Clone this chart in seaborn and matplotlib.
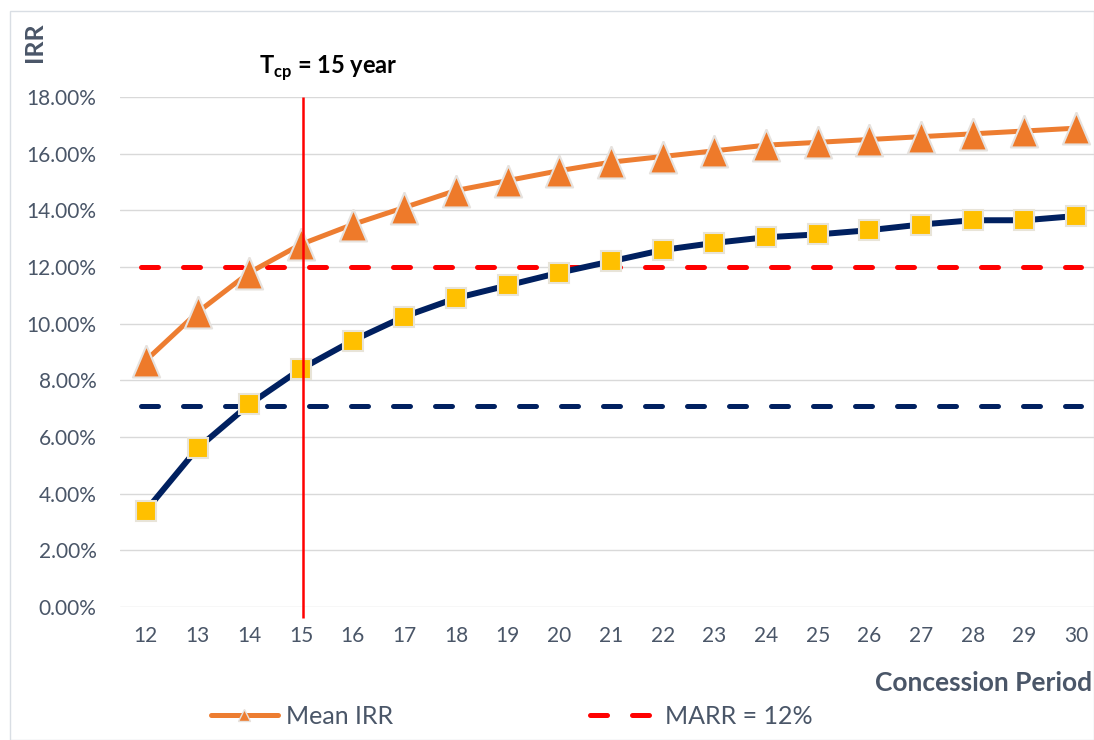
#IRR vs concession period chart

import matplotlib
matplotlib.use("Agg")
import matplotlib.pyplot as plt
import numpy as np
import pandas as pd
import seaborn as sb
from matplotlib.lines import Line2D
from matplotlib.patches import Rectangle

#Data (IRR in %)
periods = list(range(12, 31))
mean_irr = [8.7, 10.4, 11.8, 12.8, 13.5, 14.1, 14.7, 15.05, 15.4, 15.7, 15.9,
            16.1, 16.3, 16.4, 16.5, 16.6, 16.7, 16.8, 16.9]
low_irr = [3.4, 5.6, 7.15, 8.4, 9.4, 10.25, 10.9, 11.35, 11.8, 12.2, 12.6,
           12.85, 13.05, 13.15, 13.3, 13.5, 13.65, 13.65, 13.8]
marr = 12.0
low_marr = 7.1
tcp = 15
yticks = [0, 2, 4, 6, 8, 10, 12, 14, 16, 18]

df = pd.DataFrame({'period': periods, 'mean': mean_irr, 'low': low_irr})

sb.set_style("white")
plt.rcParams['font.family'] = ['Lato', 'DejaVu Sans']
plt.rcParams['mathtext.fontset'] = 'custom'
plt.rcParams['mathtext.bf'] = 'Lato:bold'
plt.rcParams['mathtext.rm'] = 'Lato'

txt = '#4A5668'
grid = '#D9D9D9'
orange = '#ED7D31'
navy = '#002060'
gold = '#FFC000'
dash = (0, (3.4, 5.0))
tri = [(0, 1), (-0.85, -1), (0.85, -1), (0, 1)]

fig = plt.figure(figsize=(10.94, 7.4), dpi=100)
fig.patches.append(Rectangle((10 / 1094, 0), 1 - 10 / 1094, 1 - 11 / 740,
                             transform=fig.transFigure, fill=False,
                             edgecolor='#D9DEE4', linewidth=1))
ax = fig.add_axes([120 / 1094, 133 / 740, 982 / 1094, 510 / 740])

#Reference lines
ax.hlines(marr, 11.9, 30.1, colors='#FF0000', linewidth=3.6,
          linestyles=dash, capstyle='round', zorder=2)
ax.hlines(low_marr, 11.9, 30.1, colors=navy, linewidth=3.6,
          linestyles=dash, capstyle='round', zorder=2)

#Series
sb.lineplot(data=df, x='period', y='mean', ax=ax, color=orange, linewidth=3.6,
            marker=tri, markersize=23, markerfacecolor='#EE7A2A',
            markeredgecolor='#E6E2DE', markeredgewidth=1.5, zorder=4)
sb.lineplot(data=df, x='period', y='low', ax=ax, color=navy, linewidth=4.3,
            marker='s', markersize=15, markerfacecolor=gold,
            markeredgecolor='#E8E4D8', markeredgewidth=1.5, zorder=3)

#Tcp line
ax.vlines(tcp + 0.05, -0.4, 18, colors='#FF0000', linewidth=1.8, clip_on=False, zorder=5)
fig.text(328 / 1094, 1 - 68 / 740, r'T$_{\mathbf{cp}}$ = 15 year', ha='center',
         va='center', fontsize=17, fontweight='bold', color='black')

ax.set_xlim(11.5, 30.5)
ax.set_ylim(0, 18)
ax.set_xticks(periods)
ax.set_yticks(yticks)
ax.set_yticklabels(['%.2f%%' % v for v in yticks])
ax.tick_params(axis='both', length=0, labelsize=15, labelcolor=txt)
ax.tick_params(axis='y', pad=17)
ax.tick_params(axis='x', pad=14)
ax.grid(axis='y', color=grid, linewidth=1)
ax.set_axisbelow(True)
for s in ax.spines.values():
    s.set_visible(False)
ax.set_xlabel('')
ax.set_ylabel('')

fig.text(1092 / 1094, 1 - 683 / 740, 'Concession Period', ha='right', va='center',
         fontsize=19, fontweight='bold', color=txt)
fig.text(35 / 1094, 1 - 42 / 740, 'IRR', rotation=90, ha='center', va='center',
         fontsize=18, fontweight='bold', color=txt)

#Legend
handles = [Line2D([], [], color=orange, linewidth=3.6, marker='^', markersize=9,
                  markerfacecolor=orange, markeredgecolor='#E6E2DE'),
           Line2D([], [], color='#FF0000', linewidth=3.6, linestyle=dash,
                  dash_capstyle='round')]
fig.legend(handles, ['Mean IRR', 'MARR = 12%'], loc='center left',
           bbox_to_anchor=(188 / 1094, 1 - 716 / 740), ncol=2, frameon=False,
           fontsize=18, labelcolor=txt, handlelength=2.7, handletextpad=0.3,
           columnspacing=7.9)

plt.savefig('out.png', dpi=100)
